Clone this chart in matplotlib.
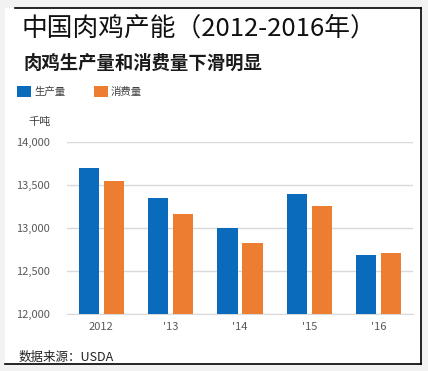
import matplotlib
matplotlib.use("Agg")
import matplotlib.pyplot as plt
import numpy as np
from matplotlib.patches import Rectangle
from matplotlib.lines import Line2D

plt.rcParams['font.family'] = ['Noto Sans CJK SC', 'DejaVu Sans']

categories = ['2012', "'13", "'14", "'15", "'16"]
production = [13700, 13350, 13000, 13400, 12690]
consumption = [13545, 13165, 12825, 13260, 12710]
series_names = ['生产量', '消费量']
yticks = [12000, 12500, 13000, 13500, 14000]
ytick_labels = ['12,000', '12,500', '13,000', '13,500', '14,000']
title = '中国肉鸡产能（2012-2016年）'
subtitle = '肉鸡生产量和消费量下滑明显'
unit = '千吨'
source = '数据来源：USDA'

BLUE = '#0A6BBD'
ORANGE = '#ED7D31'

W, H = 428, 371
fig = plt.figure(figsize=(W / 100, H / 100), dpi=100)
fig.patch.set_facecolor('#f2f2f2')

def fx(px):
    return px / W

def fy(py):
    return 1 - py / H

# white panel
fig.patches.append(Rectangle((fx(5), fy(364)), fx(421) - fx(5), fy(8) - fy(364),
                             transform=fig.transFigure, facecolor='white',
                             edgecolor='none', zorder=-5))
# border lines (top, right, bottom)
for xs, ys in [((15, 421), (8, 8)), ((421, 421), (8, 364)), ((5, 421), (364, 364))]:
    fig.lines.append(Line2D([fx(xs[0]), fx(xs[1])], [fy(ys[0]), fy(ys[1])],
                            transform=fig.transFigure, color='black', lw=1.2, zorder=5))

ax_l, ax_r, ax_t, ax_b = 66.7, 413.3, 142.3, 314
ax = fig.add_axes([fx(ax_l), fy(ax_b), fx(ax_r) - fx(ax_l), (ax_b - ax_t) / H])
ax.set_zorder(2)
ax.set_facecolor('white')

x = np.arange(len(categories))
w = 0.29
off = 0.18
ax.bar(x - off, production, w, color=BLUE, zorder=3)
ax.bar(x + off, consumption, w, color=ORANGE, zorder=3)

ax.set_xlim(-0.5, len(categories) - 0.5)
ax.set_ylim(12000, 14000)
ax.set_yticks(yticks)
ax.set_yticklabels(ytick_labels)
ax.set_xticks(x)
ax.set_xticklabels(categories)
ax.yaxis.grid(True, color='#d9d9d9', lw=1, zorder=0)
ax.set_axisbelow(True)
for s in ['top', 'right', 'left']:
    ax.spines[s].set_visible(False)
ax.spines['bottom'].set_color('#d9d9d9')
ax.tick_params(axis='both', length=0, colors='#595959', labelsize=8)
ax.tick_params(axis='y', pad=12)
ax.tick_params(axis='x', pad=6)

# texts
fig.text(fx(22), fy(29), title, fontsize=18.5, color='#111111', va='center', ha='left')
fig.text(fx(23), fy(63), subtitle, fontsize=13.2, color='#1a1a1a', va='center', ha='left',
         fontweight='semibold')
fig.text(fx(28), fy(122), unit, fontsize=8, color='#404040', va='center', ha='left')
fig.text(fx(19), fy(357), source, fontsize=9, color='#222222', va='center', ha='left')

# legend
for (lx, col, name) in [(17, BLUE, series_names[0]), (94, ORANGE, series_names[1])]:
    fig.patches.append(Rectangle((fx(lx), fy(97)), fx(14), 11 / H,
                                 transform=fig.transFigure, facecolor=col,
                                 edgecolor='none'))
    fig.text(fx(lx + 17), fy(92), name, fontsize=7.5, color='#404040',
             va='center', ha='left')

fig.savefig('out.png', dpi=100, facecolor=fig.get_facecolor())
